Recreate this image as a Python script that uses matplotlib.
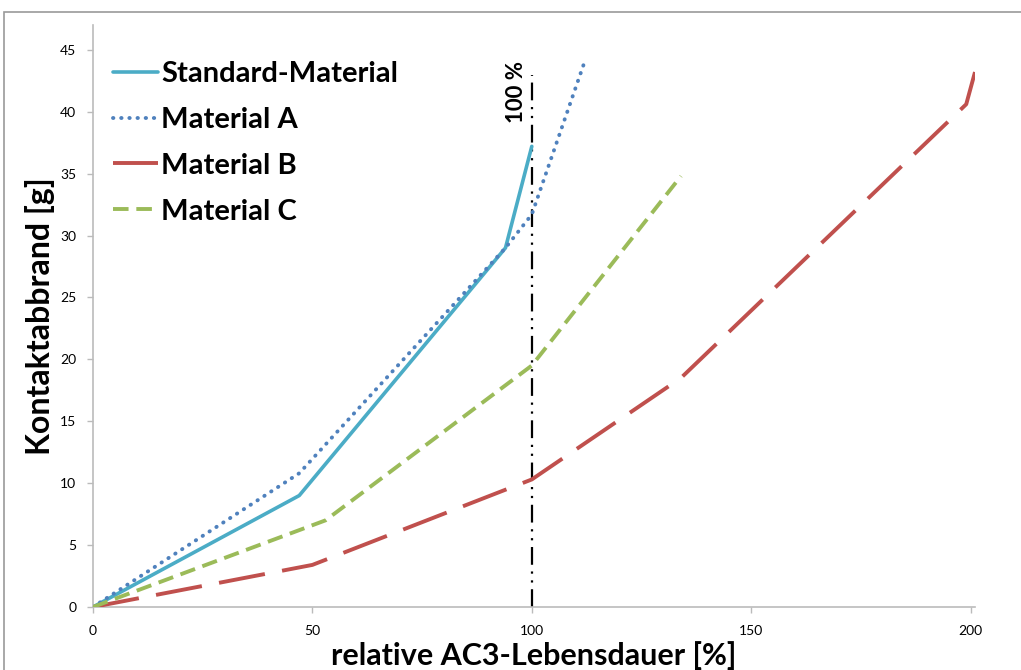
import matplotlib
matplotlib.use("Agg")
import matplotlib.pyplot as plt
from matplotlib.patches import Rectangle

plt.rcParams['font.family'] = ['Lato', 'DejaVu Sans']

# Data
std_x = [0, 47, 94, 100]
std_y = [0, 9.0, 29.0, 37.2]
a_x = [0, 47, 94, 100, 112]
a_y = [0, 10.8, 29.0, 31.7, 44.0]
b_x = [0, 50, 100, 134, 199, 201]
b_y = [0, 3.4, 10.3, 18.5, 40.6, 43.2]
c_x = [0, 53, 100, 134]
c_y = [0, 7.0, 19.5, 34.8]
ref_x = 100
ref_y_top = 43.0
labels = ["Standard-Material", "Material A", "Material B", "Material C"]
xticks = [0, 50, 100, 150, 200]
yticks = [0, 5, 10, 15, 20, 25, 30, 35, 40, 45]

fig = plt.figure(figsize=(10.21, 6.70), dpi=100)
ax = fig.add_axes([93/1021, 1-607/670, (975-93)/1021, (607-25)/670])

fig.patches.append(Rectangle((4/1021, -0.05), 1.0, 1-12/670+0.05, transform=fig.transFigure,
                             fill=False, edgecolor='#9a9a9a', linewidth=1.2))

ax.plot(std_x, std_y, color='#4BACC6', lw=2.6, solid_capstyle='round', label=labels[0], zorder=3)
ax.plot(a_x, a_y, color='#4F81BD', lw=2.8, linestyle=(0, (0.1, 2.0)), dash_capstyle='round', label=labels[1], zorder=3)
ax.plot(b_x, b_y, color='#C0504D', lw=2.8, linestyle=(0, (12, 4.5)), label=labels[2], zorder=3)
ax.plot(c_x, c_y, color='#9BBB59', lw=2.8, linestyle=(0, (4, 2)), label=labels[3], zorder=3)

ax.plot([ref_x, ref_x], [0, ref_y_top], color='black', lw=1.6,
        linestyle=(0, (8, 3, 1, 3, 1, 3)), zorder=2)
ax.text(ref_x - 1.2, ref_y_top + 1.1, "100 %", rotation=90, ha='right', va='top',
        fontsize=16, fontweight='bold')

ax.set_xlim(0, 201)
ax.set_ylim(0, 47)
ax.set_xticks(xticks)
ax.set_yticks(yticks)
ax.tick_params(labelsize=10, length=4, color='#bbbbbb', width=1)
ax.tick_params(axis='x', pad=9)
ax.tick_params(axis='y', pad=8)
for s in ['top', 'right']:
    ax.spines[s].set_visible(False)
for s in ['left', 'bottom']:
    ax.spines[s].set_color('#bbbbbb')
    ax.spines[s].set_linewidth(1.2)

ax.set_xlabel("relative AC3-Lebensdauer [%]", fontsize=22, fontweight='bold', labelpad=3)
ax.set_ylabel("Kontaktabbrand [g]", fontsize=23, fontweight='bold', labelpad=4)

leg = ax.legend(loc='upper left', bbox_to_anchor=((113-93)/882, (607-61)/582), frameon=False,
                prop={'size': 21, 'weight': 'bold'}, handlelength=1.55, handletextpad=0.1,
                labelspacing=0.68, borderpad=0, borderaxespad=0)

fig.savefig("out.png", dpi=100)
